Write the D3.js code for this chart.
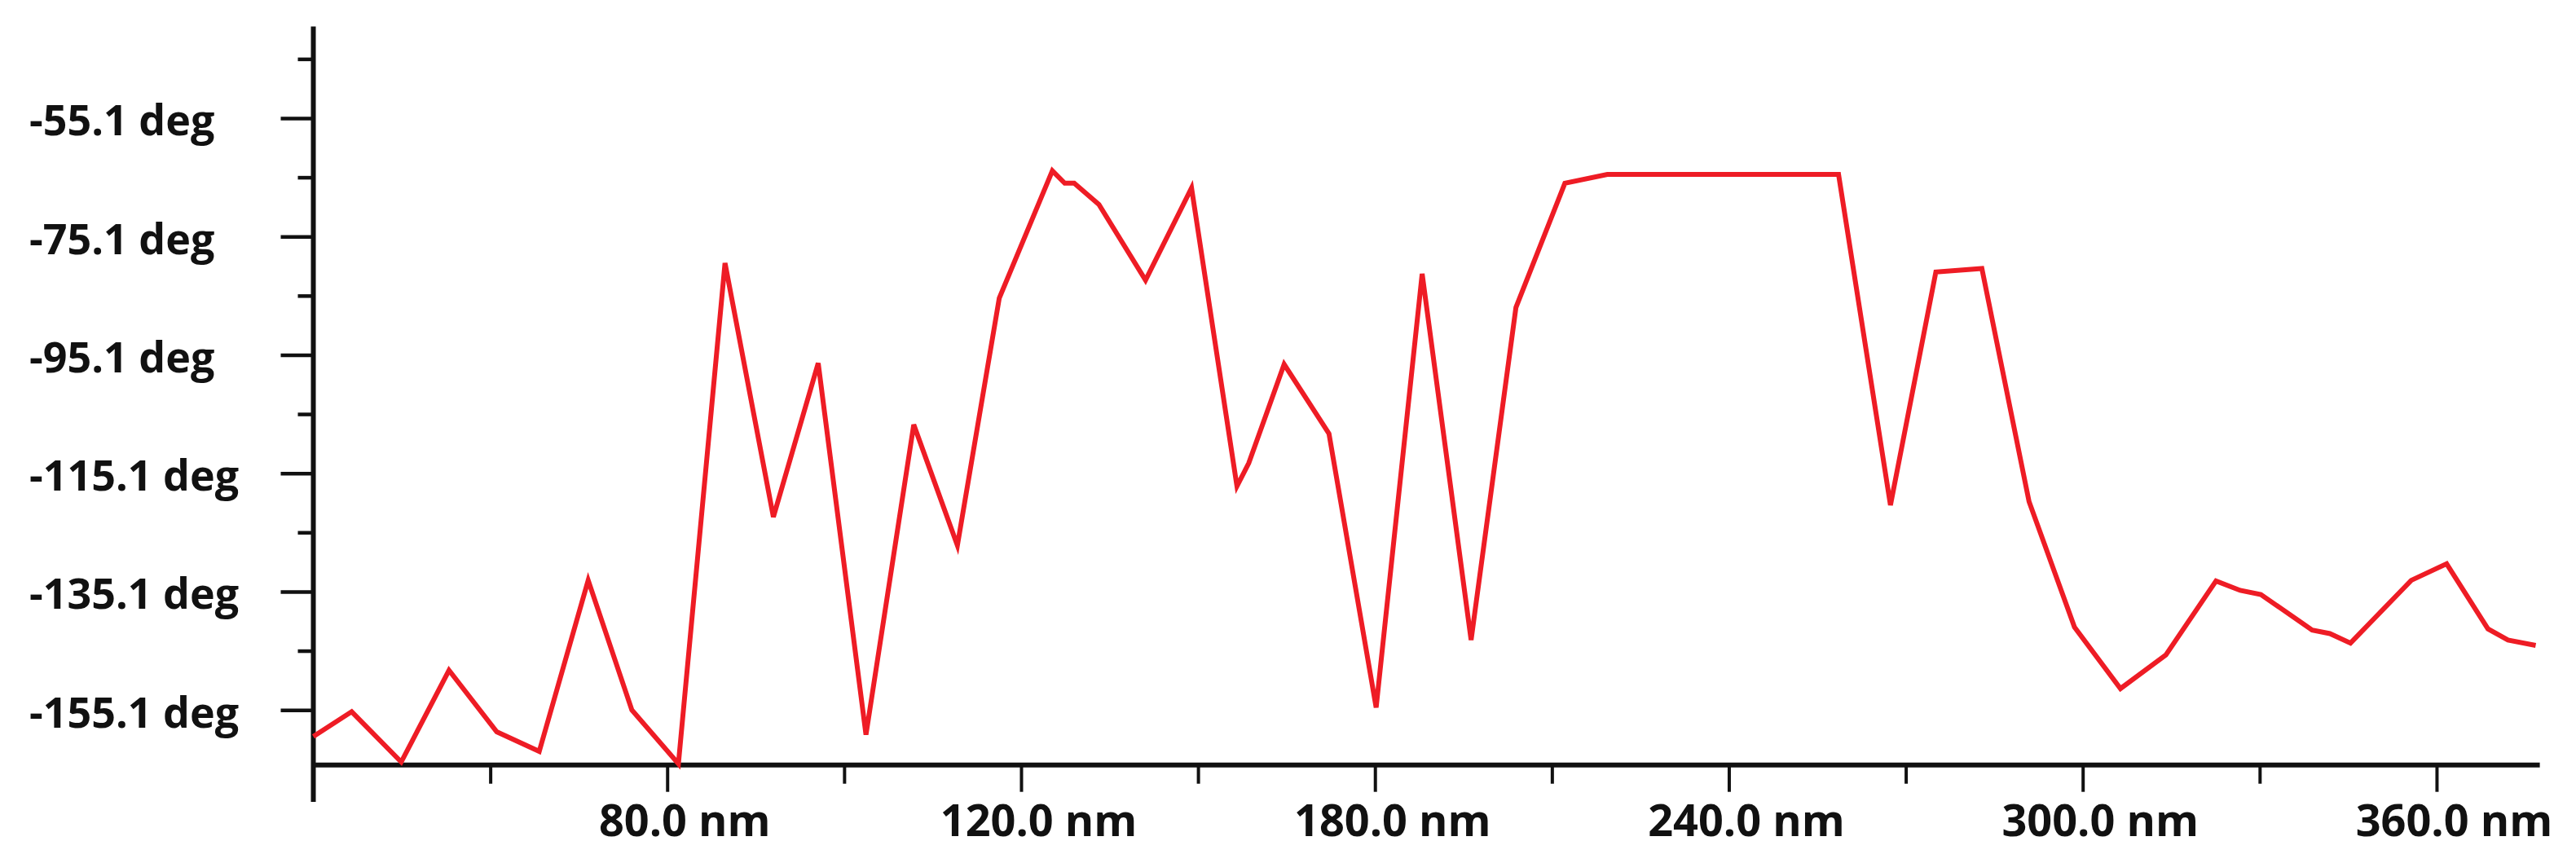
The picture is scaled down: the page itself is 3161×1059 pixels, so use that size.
<!DOCTYPE html>
<html>
<head>
<meta charset="utf-8">
<script src="https://cdn.jsdelivr.net/npm/d3@7"></script>
<style>
  html, body { margin: 0; padding: 0; background: #ffffff; }
  svg { display: block; }
</style>
</head>
<body>
<svg id="chart" width="3161" height="1059"></svg>
<script>
// ---- data ----
const distanceNm = [0, 6.5, 14.9, 23.0, 31.1, 38.3, 46.6, 54.0, 61.9, 69.8,
  78.0, 85.6, 93.7, 101.8, 109.2, 116.3, 125.3, 127.4, 129.0, 133.2,
  141.1, 148.9, 156.6, 158.6, 164.6, 172.2, 180.2, 188.0, 196.3, 203.9,
  212.2, 219.4, 258.6, 267.4, 275.1, 282.9, 290.9, 298.6, 306.4, 314.1,
  322.6, 326.7, 330.2, 338.9, 341.9, 345.4, 355.7, 361.7, 368.7, 372.1, 376.8];
const phaseDeg = [-159.6, -155.4, -163.9, -148.4, -158.8, -162.1, -133.2, -155.1, -164.2, -79.6,
  -122.5, -96.5, -159.3, -106.9, -127.3, -85.5, -64.0, -66.1, -66.1, -69.7,
  -82.5, -66.9, -117.3, -113.4, -96.7, -108.4, -154.7, -81.4, -143.3, -87.1,
  -66.1, -64.6, -64.6, -120.5, -81.1, -80.5, -119.9, -141.1, -151.5, -145.8,
  -133.3, -134.9, -135.6, -141.6, -142.2, -143.8, -133.2, -130.4, -141.4, -143.3, -144.2];

const xMajorTicks = [60, 120, 180, 240, 300, 360];
const xMajorLabels = ["80.0 nm", "120.0 nm", "180.0 nm", "240.0 nm", "300.0 nm", "360.0 nm"];
const xMinorTicks = [30, 90, 150, 210, 270, 330];

const yMajorTicks = [-155.1, -135.1, -115.1, -95.1, -75.1, -55.1];
const yMajorLabels = ["-155.1 deg", "-135.1 deg", "-115.1 deg", "-95.1 deg", "-75.1 deg", "-55.1 deg"];
const yMinorTicks = [-145.1, -125.1, -105.1, -85.1, -65.1, -45.1];

const xDomain = [0, 377.5];
const yDomain = [-164.4, -39.6];

// ---- layout ----
const svg = d3.select("#chart");
const plotLeft = 384.5, plotRight = 3116.6, plotTop = 32.4, plotBottom = 938.7;
const font = "'Open Sans', 'DejaVu Sans', sans-serif";

const x = d3.scaleLinear().domain(xDomain).range([plotLeft, plotRight]);
const y = d3.scaleLinear().domain(yDomain).range([plotBottom, plotTop]);

// X axis
const xAxisG = svg.append("g").attr("transform", `translate(0,${plotBottom})`);
xAxisG.call(d3.axisBottom(x).tickValues(xMajorTicks).tickSize(33)
  .tickFormat((d, i) => xMajorLabels[i]).tickPadding(10));
xAxisG.select(".domain").remove();
xAxisG.selectAll(".tick line").attr("stroke", "#111").attr("stroke-width", 4);
xAxisG.selectAll(".tick text")
  .attr("y", 87).attr("dy", 0).attr("dx", 21)
  .attr("fill", "#111")
  .style("font-family", font).style("font-weight", 700).style("font-size", "54px");

const xMinorG = svg.append("g").attr("transform", `translate(0,${plotBottom})`);
xMinorG.call(d3.axisBottom(x).tickValues(xMinorTicks).tickSize(23).tickFormat(""));
xMinorG.select(".domain").remove();
xMinorG.selectAll(".tick line").attr("stroke", "#111").attr("stroke-width", 4);

// Y axis
const yAxisG = svg.append("g").attr("transform", `translate(${plotLeft},0)`);
yAxisG.call(d3.axisLeft(y).tickValues(yMajorTicks).tickSize(40)
  .tickFormat((d, i) => yMajorLabels[i]));
yAxisG.select(".domain").remove();
yAxisG.selectAll(".tick line").attr("stroke", "#111").attr("stroke-width", 4.5);
yAxisG.selectAll(".tick text")
  .attr("x", 36 - plotLeft).attr("dy", 21).attr("text-anchor", "start")
  .attr("fill", "#111")
  .style("font-family", font).style("font-weight", 700).style("font-size", "52px");

const yMinorG = svg.append("g").attr("transform", `translate(${plotLeft},0)`);
yMinorG.call(d3.axisLeft(y).tickValues(yMinorTicks).tickSize(19).tickFormat(""));
yMinorG.select(".domain").remove();
yMinorG.selectAll(".tick line").attr("stroke", "#111").attr("stroke-width", 4.5);

// axis lines
svg.append("line").attr("x1", plotLeft).attr("x2", plotLeft).attr("y1", plotTop).attr("y2", 984)
  .attr("stroke", "#111").attr("stroke-width", 6);
svg.append("line").attr("x1", plotLeft).attr("x2", plotRight).attr("y1", plotBottom).attr("y2", plotBottom)
  .attr("stroke", "#111").attr("stroke-width", 6);

// data line
const pts = distanceNm.map((d, i) => [d, phaseDeg[i]]);
svg.append("path")
  .datum(pts)
  .attr("fill", "none")
  .attr("stroke", "#ee1c25")
  .attr("stroke-width", 6)
  .attr("stroke-linejoin", "miter")
  .attr("d", d3.line().x(d => x(d[0])).y(d => y(d[1])));
</script>
</body>
</html>
